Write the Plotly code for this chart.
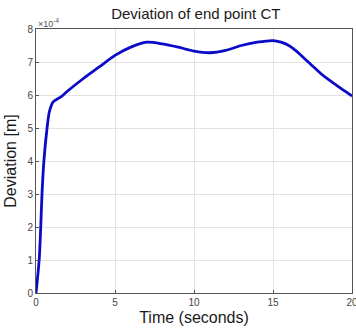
import plotly.graph_objects as go

# Time (s) and deviation (in units of 1e-4 m)
time_s = [0, 0.2, 0.3, 0.38, 0.5, 0.7, 0.85, 1.1, 1.6, 2, 3, 4, 5, 6, 7, 8, 9, 10, 11, 12, 13, 14, 15, 15.5, 16, 16.5, 17, 17.5, 18, 18.5, 19, 19.5, 20]
deviation_e4 = [0, 1.0, 2.0, 3.0, 4.0, 5.0, 5.5, 5.8, 5.95, 6.12, 6.5, 6.85, 7.2, 7.45, 7.6, 7.55, 7.45, 7.33, 7.28, 7.35, 7.5, 7.6, 7.65, 7.6, 7.5, 7.32, 7.1, 6.88, 6.66, 6.47, 6.3, 6.13, 5.97]

x_ticks = [0, 5, 10, 15, 20]
y_ticks = [0, 1, 2, 3, 4, 5, 6, 7, 8]

fig = go.Figure()
fig.add_trace(go.Scatter(
    x=time_s, y=deviation_e4, mode="lines",
    line=dict(color="#0a0ac8", width=2.8, shape="spline", smoothing=0.8),
    showlegend=False,
))

axis_common = dict(
    showgrid=True, gridcolor="#e3e3e3", gridwidth=1,
    showline=True, linecolor="#555555", linewidth=1, mirror=True,
    ticks="inside", ticklen=3, tickcolor="#555555",
    tickfont=dict(family="Liberation Sans, Arial", size=10, color="#444444"),
    zeroline=False, automargin=False,
)

fig.update_layout(
    width=356, height=331,
    margin=dict(l=36, r=4, t=29, b=38),
    paper_bgcolor="white", plot_bgcolor="white",
    title=dict(text="Deviation of end point CT", x=0.55, xanchor="center", y=0.958, yanchor="middle",
               font=dict(family="Liberation Sans, Arial", size=15, color="#1a1a1a")),
    xaxis=dict(range=[0, 20], tickvals=x_ticks, ticklabeloverflow="allow",
               title=dict(text="Time (seconds)", standoff=4,
                          font=dict(family="Liberation Sans, Arial", size=16, color="#1a1a1a")), **axis_common),
    yaxis=dict(range=[0, 8], tickvals=y_ticks, title=dict(text="Deviation [m]", standoff=6,
               font=dict(family="Liberation Sans, Arial", size=16, color="#1a1a1a")), **axis_common),
)

fig.add_annotation(x=0, y=1, xref="paper", yref="paper", xanchor="left", yanchor="bottom",
                   text="×10<sup>-4</sup>", showarrow=False, yshift=-2,
                   font=dict(family="Liberation Sans, Arial", size=9, color="#555555"))

fig.write_html("out.html")
